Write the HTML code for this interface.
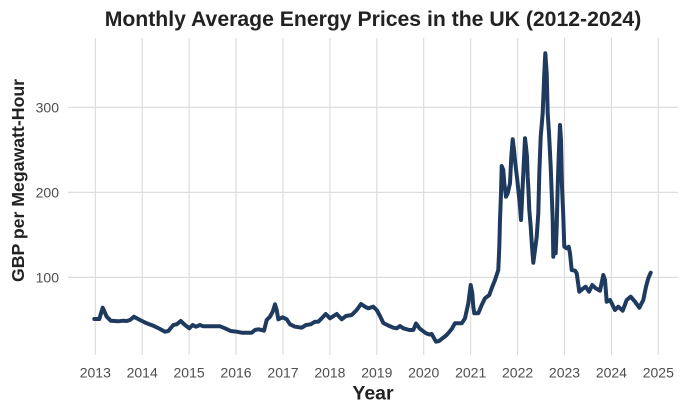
<!DOCTYPE html>
<html><head><meta charset="utf-8"><style>
html,body{margin:0;padding:0;background:#fff;}
svg{display:block;}
text{font-family:"Liberation Sans",Arial,sans-serif;}
</style></head><body>
<svg width="688" height="413" viewBox="0 0 688 413" xmlns="http://www.w3.org/2000/svg">
<rect width="688" height="413" fill="#fff"/>
<g stroke="#dadada" stroke-width="1.1">
<line x1="68" y1="277.3" x2="678" y2="277.3"/>
<line x1="68" y1="192.3" x2="678" y2="192.3"/>
<line x1="68" y1="107.3" x2="678" y2="107.3"/>
<line x1="95.3" y1="38" x2="95.3" y2="355"/>
<line x1="142.2" y1="38" x2="142.2" y2="355"/>
<line x1="189.1" y1="38" x2="189.1" y2="355"/>
<line x1="236" y1="38" x2="236" y2="355"/>
<line x1="283" y1="38" x2="283" y2="355"/>
<line x1="329.9" y1="38" x2="329.9" y2="355"/>
<line x1="376.8" y1="38" x2="376.8" y2="355"/>
<line x1="423.7" y1="38" x2="423.7" y2="355"/>
<line x1="470.7" y1="38" x2="470.7" y2="355"/>
<line x1="517.6" y1="38" x2="517.6" y2="355"/>
<line x1="564.5" y1="38" x2="564.5" y2="355"/>
<line x1="611.4" y1="38" x2="611.4" y2="355"/>
<line x1="658.3" y1="38" x2="658.3" y2="355"/>
</g>
<polyline fill="none" stroke="#1f3a5f" stroke-width="4" stroke-linejoin="round" stroke-linecap="round" points="94.3,319 99.3,319 102.7,307.7 106.7,316.7 110.7,320.7 118.3,321.3 123.3,320.7 126.7,321 130,320 134,316.7 140,320 146.7,323.3 153.3,325.7 160,329 165,331.7 168.3,331 173.3,325 176.7,324.3 180.7,321 185,325 189.3,328.3 192.7,325 196,326.7 200,325 203.3,326.3 220,326.3 225,328.3 230.7,331 236.7,331.7 241.7,332.7 251.7,332.7 255,330 258.3,329.3 261.7,330 264,330.7 266.7,320 270,316.7 272.7,311.7 275,304.3 276.7,310 278.3,319.3 282.7,317.3 286.7,319.3 290,324.3 295,326.7 301.7,327.7 306,325 310.7,324.3 315,321.7 318.3,321.7 321.7,318.3 325.7,314 330,318.3 336.7,314 341.7,319.3 346,316 351.7,315 356.7,310 361,304 365,306.7 368.3,308.3 373.3,306.7 376.7,310 380,316 383.3,323 388.3,325.5 393.3,327.7 396.7,328.3 400,326 403.3,328.3 409.3,330 413.3,330 416,323.5 420,328.8 426,333.3 429.3,334.5 431.7,334 436,341.7 439,341 446.7,335 451.7,329 455,323.3 461.7,323.3 465,318.3 468.3,303.3 470.7,285 472.3,293.3 473.3,306.7 474.3,313.3 478.3,313.3 481.7,305 485,298.3 489.3,295 491.7,288.3 495,280 498.3,270 499.3,246.7 500,220 501,193.3 501.7,166 503.3,170 504.3,183.3 506,196.7 507.7,193.3 510,183.3 511.3,156.7 512.7,139.3 514,150 515.3,163.3 517.3,180 519,196.7 520,206.7 521,220 522,200 523.3,173.3 525,138.3 526,146.7 527,156.7 527.7,176.7 528.3,186.7 529.3,210 530.7,226.7 532,246.7 533.3,262.7 535,250 536.7,236.7 538.3,213.3 539.3,173.3 540.7,136.7 542.7,113.3 544.3,73.3 545.3,53.3 546.7,73.3 547.7,113.3 549,133.3 550.7,166.7 551.7,193.3 552.7,220 553.3,256.7 554.3,240 555.7,253.3 556.7,226.7 557.7,186.7 558.7,156.7 560,125 561,140 562,186.7 563.3,216.7 564.3,246.7 566.7,248.3 568.7,246.7 570,253.3 571.7,270 575,270.7 576.7,273.3 579.3,291.7 583.3,288.3 585.7,286.7 589,291.7 592.3,285 595.7,288.3 600,290.7 603.3,275 605,280 606.7,301.7 610,300 611.7,303.3 615,310 618.3,306.7 622.7,310.7 626.7,300 630.7,296.7 635,301.7 639.3,307.7 643.3,300 646,286.7 648.3,278.3 650.7,272.7"/>
<g fill="#4d4d4d" font-size="14" text-anchor="end">
<text x="59" y="282.3">100</text>
<text x="59" y="197.3">200</text>
<text x="59" y="112.3">300</text>
</g>
<g fill="#4d4d4d" font-size="14" text-anchor="middle">
<text x="95.3" y="377.5">2013</text>
<text x="142.2" y="377.5">2014</text>
<text x="189.1" y="377.5">2015</text>
<text x="236" y="377.5">2016</text>
<text x="283" y="377.5">2017</text>
<text x="329.9" y="377.5">2018</text>
<text x="376.8" y="377.5">2019</text>
<text x="423.7" y="377.5">2020</text>
<text x="470.7" y="377.5">2021</text>
<text x="517.6" y="377.5">2022</text>
<text x="564.5" y="377.5">2023</text>
<text x="611.4" y="377.5">2024</text>
<text x="658.3" y="377.5">2025</text>
</g>
<text x="373" y="26" font-size="21.2" font-weight="bold" fill="#222" text-anchor="middle">Monthly Average Energy Prices in the UK (2012-2024)</text>
<text x="373" y="399.5" font-size="19.5" font-weight="bold" fill="#222" text-anchor="middle">Year</text>
<text transform="translate(24,180.5) rotate(-90)" font-size="17.7" font-weight="bold" fill="#222" text-anchor="middle">GBP per Megawatt-Hour</text>
</svg>
</body></html>
